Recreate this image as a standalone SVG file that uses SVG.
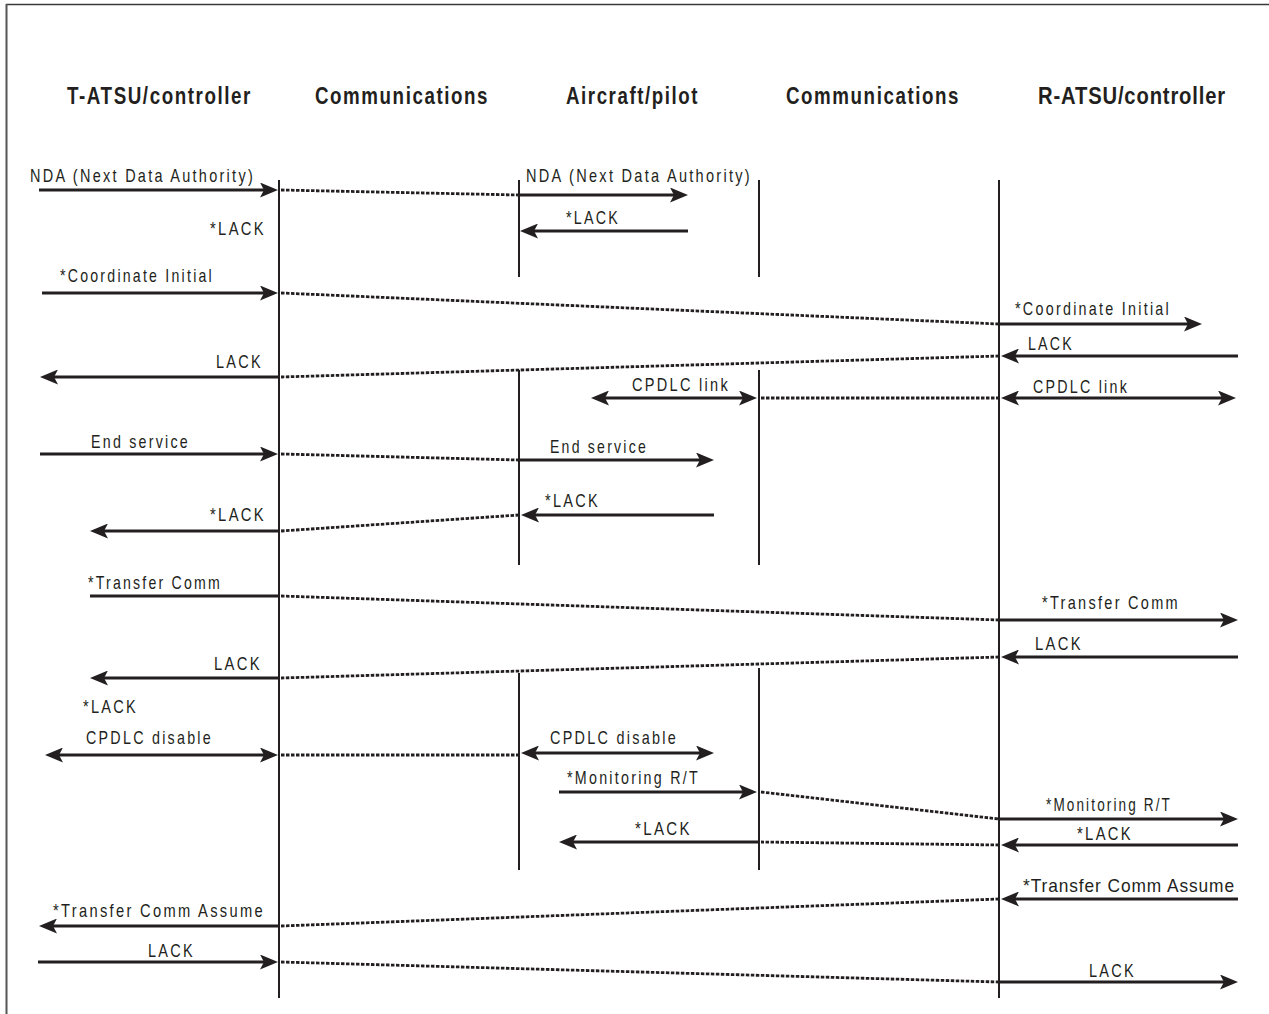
<svg xmlns="http://www.w3.org/2000/svg" width="1269" height="1014" viewBox="0 0 1269 1014">
  <style>
    .hd { font-family: "Liberation Sans Narrow", "Liberation Sans", Arial, sans-serif; font-weight: bold; font-size: 24px; letter-spacing: 2px; fill: #231f20; }
    .lb { font-family: "Liberation Sans Narrow", "Liberation Sans", Arial, sans-serif; font-size: 19px; letter-spacing: 3px; fill: #231f20; }
    .tight { letter-spacing: 1px; }
    .life { stroke: #231f20; stroke-width: 2; fill: none; }
    .msg { stroke: #231f20; stroke-width: 3.2; fill: none; }
    .to { marker-end: url(#ah); }
    .both { marker-start: url(#ah); marker-end: url(#ah); }
    .link { stroke: #231f20; stroke-width: 2.8; stroke-dasharray: 3.5 1.5; fill: none; }
  </style>
  <defs>
    <marker id="ah" markerUnits="userSpaceOnUse" markerWidth="18" markerHeight="15" refX="6" refY="7.5" orient="auto-start-reverse">
      <path d="M0,0 L18,7.5 L0,15 L4,7.5 z" fill="#231f20"/>
    </marker>
  </defs>

  <rect width="1269" height="1014" fill="#ffffff"/>
  <!-- frame: top and left rules only -->
  <line x1="6" y1="4.5" x2="1269" y2="4.5" stroke="#3a3a3a" stroke-width="1.6"/>
  <line x1="6.5" y1="4" x2="6.5" y2="1014" stroke="#555555" stroke-width="2"/>

  <!-- participants with their lifelines -->
  <g id="t-atsu">
    <text class="hd" x="67" y="104" textLength="185" lengthAdjust="spacingAndGlyphs">T-ATSU/controller</text>
    <line class="life" x1="279" y1="180" x2="279" y2="998"/>
  </g>
  <g id="comm-left">
    <text class="hd" x="315" y="104" textLength="174" lengthAdjust="spacingAndGlyphs">Communications</text>
  </g>
  <g id="aircraft">
    <text class="hd" x="566" y="104" textLength="133" lengthAdjust="spacingAndGlyphs">Aircraft/pilot</text>
    <line class="life" x1="519" y1="180" x2="519" y2="277"/>
    <line class="life" x1="519" y1="370" x2="519" y2="565"/>
    <line class="life" x1="519" y1="673" x2="519" y2="870"/>
    <line class="life" x1="759" y1="180" x2="759" y2="277"/>
    <line class="life" x1="759" y1="370" x2="759" y2="565"/>
    <line class="life" x1="759" y1="668" x2="759" y2="870"/>
  </g>
  <g id="comm-right">
    <text class="hd" x="786" y="104" textLength="174" lengthAdjust="spacingAndGlyphs">Communications</text>
  </g>
  <g id="r-atsu">
    <text class="hd tight" x="1038" y="104" textLength="188" lengthAdjust="spacingAndGlyphs">R-ATSU/controller</text>
    <line class="life" x1="999" y1="180" x2="999" y2="998"/>
  </g>

  <!-- messages -->
  <g id="connectors">
    <!-- NDA -->
    <line class="msg to" x1="39" y1="190" x2="266" y2="190"/>
    <line class="link" x1="281" y1="190" x2="519" y2="195"/>
    <line class="msg to" x1="519" y1="195" x2="676" y2="195"/>
    <line class="msg to" x1="688" y1="231" x2="532" y2="231"/>

    <!-- Coordinate Initial -->
    <line class="msg to" x1="42" y1="293" x2="266" y2="293"/>
    <line class="link" x1="281" y1="293" x2="999" y2="324"/>
    <line class="msg to" x1="999" y1="324" x2="1190" y2="324"/>

    <!-- LACK -->
    <line class="msg to" x1="1238" y1="356" x2="1013" y2="356"/>
    <line class="link" x1="999" y1="356" x2="281" y2="377"/>
    <line class="msg to" x1="279" y1="377" x2="52" y2="377"/>

    <!-- CPDLC link -->
    <line class="msg both" x1="603" y1="398" x2="745" y2="398"/>
    <line class="link" x1="761" y1="398" x2="999" y2="398"/>
    <line class="msg both" x1="1013" y1="398" x2="1224" y2="398"/>

    <!-- End service -->
    <line class="msg to" x1="40" y1="454" x2="266" y2="454"/>
    <line class="link" x1="281" y1="454" x2="519" y2="460"/>
    <line class="msg to" x1="519" y1="460" x2="702" y2="460"/>

    <!-- *LACK -->
    <line class="msg to" x1="714" y1="515" x2="533" y2="515"/>
    <line class="link" x1="519" y1="515" x2="281" y2="531"/>
    <line class="msg to" x1="279" y1="531" x2="102" y2="531"/>

    <!-- Transfer Comm -->
    <line class="msg" x1="90" y1="596" x2="279" y2="596"/>
    <line class="link" x1="281" y1="596" x2="999" y2="620"/>
    <line class="msg to" x1="999" y1="620" x2="1226" y2="620"/>

    <!-- LACK -->
    <line class="msg to" x1="1238" y1="657" x2="1013" y2="657"/>
    <line class="link" x1="999" y1="657" x2="281" y2="678"/>
    <line class="msg to" x1="279" y1="678" x2="102" y2="678"/>

    <!-- CPDLC disable -->
    <line class="msg both" x1="57" y1="755" x2="266" y2="755"/>
    <line class="link" x1="281" y1="755" x2="519" y2="755"/>
    <line class="msg both" x1="533" y1="753" x2="702" y2="753"/>

    <!-- Monitoring R/T -->
    <line class="msg to" x1="559" y1="792" x2="745" y2="792"/>
    <line class="link" x1="761" y1="792" x2="999" y2="819"/>
    <line class="msg to" x1="999" y1="819" x2="1226" y2="819"/>

    <!-- *LACK -->
    <line class="msg to" x1="1238" y1="845" x2="1013" y2="845"/>
    <line class="link" x1="999" y1="845" x2="761" y2="842"/>
    <line class="msg to" x1="759" y1="842" x2="571" y2="842"/>

    <!-- Transfer Comm Assume -->
    <line class="msg to" x1="1238" y1="899" x2="1013" y2="899"/>
    <line class="link" x1="999" y1="899" x2="281" y2="926"/>
    <line class="msg to" x1="279" y1="926" x2="51" y2="926"/>

    <!-- LACK -->
    <line class="msg to" x1="38" y1="962" x2="266" y2="962"/>
    <line class="link" x1="281" y1="962" x2="999" y2="982"/>
    <line class="msg to" x1="999" y1="982" x2="1226" y2="982"/>

    <!-- message labels -->
    <text class="lb" x="30" y="182" textLength="225" lengthAdjust="spacingAndGlyphs">NDA (Next Data Authority)</text>
    <text class="lb" x="210" y="235" textLength="56" lengthAdjust="spacingAndGlyphs">*LACK</text>
    <text class="lb" x="526" y="182" textLength="226" lengthAdjust="spacingAndGlyphs">NDA (Next Data Authority)</text>
    <text class="lb" x="566" y="224" textLength="54" lengthAdjust="spacingAndGlyphs">*LACK</text>
    <text class="lb" x="60" y="282" textLength="154" lengthAdjust="spacingAndGlyphs">*Coordinate Initial</text>
    <text class="lb" x="1015" y="315" textLength="156" lengthAdjust="spacingAndGlyphs">*Coordinate Initial</text>
    <text class="lb" x="1028" y="350" textLength="46" lengthAdjust="spacingAndGlyphs">LACK</text>
    <text class="lb" x="216" y="368" textLength="47" lengthAdjust="spacingAndGlyphs">LACK</text>
    <text class="lb" x="632" y="391" textLength="98" lengthAdjust="spacingAndGlyphs">CPDLC link</text>
    <text class="lb" x="1033" y="393" textLength="96" lengthAdjust="spacingAndGlyphs">CPDLC link</text>
    <text class="lb" x="91" y="448" textLength="99" lengthAdjust="spacingAndGlyphs">End service</text>
    <text class="lb" x="550" y="453" textLength="98" lengthAdjust="spacingAndGlyphs">End service</text>
    <text class="lb" x="545" y="507" textLength="55" lengthAdjust="spacingAndGlyphs">*LACK</text>
    <text class="lb" x="210" y="521" textLength="56" lengthAdjust="spacingAndGlyphs">*LACK</text>
    <text class="lb" x="88" y="589" textLength="134" lengthAdjust="spacingAndGlyphs">*Transfer Comm</text>
    <text class="lb" x="1042" y="609" textLength="138" lengthAdjust="spacingAndGlyphs">*Transfer Comm</text>
    <text class="lb" x="1035" y="650" textLength="48" lengthAdjust="spacingAndGlyphs">LACK</text>
    <text class="lb" x="214" y="670" textLength="48" lengthAdjust="spacingAndGlyphs">LACK</text>
    <text class="lb" x="83" y="713" textLength="55" lengthAdjust="spacingAndGlyphs">*LACK</text>
    <text class="lb" x="86" y="744" textLength="127" lengthAdjust="spacingAndGlyphs">CPDLC disable</text>
    <text class="lb" x="550" y="744" textLength="128" lengthAdjust="spacingAndGlyphs">CPDLC disable</text>
    <text class="lb" x="567" y="784" textLength="133" lengthAdjust="spacingAndGlyphs">*Monitoring R/T</text>
    <text class="lb" x="1046" y="811" textLength="126" lengthAdjust="spacingAndGlyphs">*Monitoring R/T</text>
    <text class="lb" x="635" y="835" textLength="57" lengthAdjust="spacingAndGlyphs">*LACK</text>
    <text class="lb" x="1077" y="840" textLength="56" lengthAdjust="spacingAndGlyphs">*LACK</text>
    <text class="lb tight" x="1023" y="892" textLength="212" lengthAdjust="spacingAndGlyphs">*Transfer Comm Assume</text>
    <text class="lb" x="53" y="917" textLength="212" lengthAdjust="spacingAndGlyphs">*Transfer Comm Assume</text>
    <text class="lb" x="148" y="957" textLength="47" lengthAdjust="spacingAndGlyphs">LACK</text>
    <text class="lb" x="1089" y="977" textLength="47" lengthAdjust="spacingAndGlyphs">LACK</text>
  </g>
</svg>
